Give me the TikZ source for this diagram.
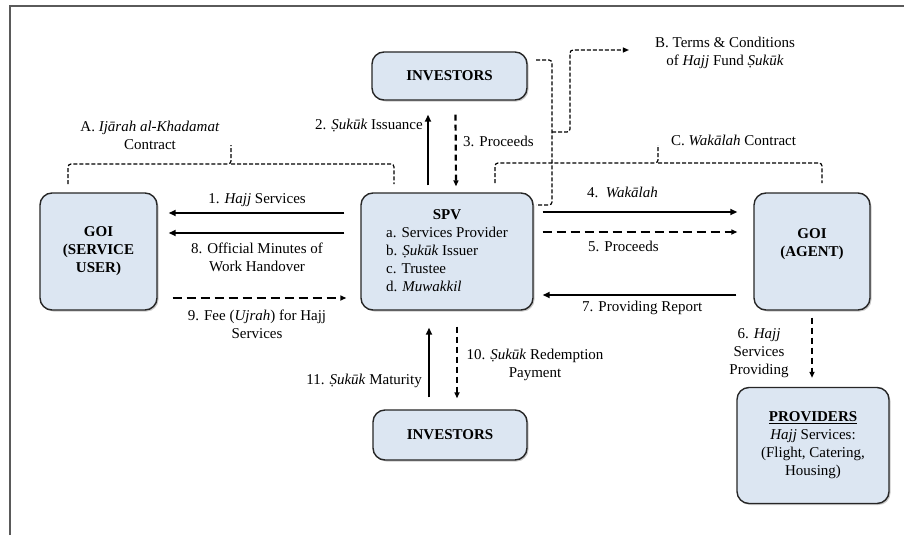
\documentclass[tikz,border=0pt]{standalone}
\usepackage{fontspec}
\setmainfont{Liberation Serif}
\usetikzlibrary{arrows.meta,shadows}
\definecolor{boxblue}{RGB}{220,230,242}
\definecolor{framegray}{RGB}{90,90,90}
\begin{document}
\begin{tikzpicture}[x=1pt,y=-1pt,
  font=\fontsize{15}{18}\selectfont,
  box/.style={draw=black!85, line width=1.4pt, fill=boxblue, rounded corners=12pt,
    inner sep=0pt, align=center, font=\fontsize{15}{18}\selectfont\bfseries,
    drop shadow={shadow xshift=1.5pt, shadow yshift=-1.5pt, opacity=0.35, fill=black!60}},
  lbl/.style={inner sep=0pt, text height=10pt, text depth=3.5pt},
  mlbl/.style={inner sep=0pt, align=center},
  solidarr/.style={line width=1.8pt, -{Triangle[length=7pt,width=6pt]}},
  dasharr/.style={line width=1.8pt, dash pattern=on 9pt off 5pt, -{Triangle[length=6pt,width=5pt]}},
  vdasharr/.style={line width=2.2pt, dash pattern=on 6pt off 4pt, -{Triangle[length=6pt,width=5pt]}},
  brk/.style={line width=1.2pt, dash pattern=on 4pt off 2pt, rounded corners=3pt},
  brkarr/.style={brk, -{Triangle[length=6pt,width=5pt]}}]
\useasboundingbox (0,0) rectangle (904,535);

% outer frame (top and left edges)
\draw[framegray, line width=2pt] (10,535) -- (10,6) -- (904,6);

% parties
\node[box, minimum width=155pt, minimum height=48pt] (inv1) at (449.5,76) {INVESTORS};
\node[box, minimum width=117pt, minimum height=117pt] (user) at (98.5,251.5) {GOI\\(SERVICE\\USER)};
\node[box, minimum width=172pt, minimum height=117pt, font=\fontsize{15}{18}\selectfont] (spv) at (447,251.5)
  {\begin{tabular}{@{}l@{}}\multicolumn{1}{@{}c@{}}{\textbf{SPV}}\\
   a. Services Provider\\ b. \textit{Ṣukūk} Issuer\\ c. Trustee\\ d. \textit{Muwakkil}\end{tabular}};
\node[box, minimum width=116pt, minimum height=117pt, text depth=18pt] (agent) at (812,251.5) {GOI\\(AGENT)};
\node[box, minimum width=154pt, minimum height=50pt] (inv2) at (450,435) {INVESTORS};
\node[box, minimum width=152pt, minimum height=116pt, font=\fontsize{15}{18}\selectfont] (prov) at (813,445.5)
  {\textbf{\underline{PROVIDERS}}\\\textit{Hajj} Services:\\(Flight, Catering,\\Housing)};

% SPV <-> investors (issuance)
\draw[solidarr] ([shift={(-19,-7)}]spv.north) -- ([shift={(-21.5,14)}]inv1.south);
\draw[vdasharr] ([shift={(6,14)}]inv1.south) -- ([shift={(9,-6)}]spv.north);
\node[lbl, anchor=east] (l2) at (423,126) {2. \textit{Ṣukūk} Issuance};
\node[lbl, anchor=west] (l3) at (463,143) {3. Proceeds};

% SPV <-> GOI service user
\draw[solidarr] ([shift={(-16,-38.5)}]spv.west) -- ([shift={(11,-38.5)}]user.east);
\draw[solidarr] ([shift={(-16,-18.5)}]spv.west) -- ([shift={(11,-18.5)}]user.east);
\draw[dasharr] ([shift={(15,46.5)}]user.east) -- ([shift={(-14,46.5)}]spv.west);
\node[lbl] (l1) at (257,200) {1. \textit{Hajj} Services};
\node[mlbl] (l8) at (257,257) {8. Official Minutes of\\Work Handover};
\node[mlbl] (l9) at (257,324.5) {9. Fee (\textit{Ujrah}) for Hajj\\Services};

% SPV <-> GOI agent
\draw[solidarr] ([shift={(9,-39.5)}]spv.east) -- ([shift={(-16,-39.5)}]agent.west);
\draw[dasharr] ([shift={(9,-19.5)}]spv.east) -- ([shift={(-16,-19.5)}]agent.west);
\draw[solidarr] ([shift={(-17,43.5)}]agent.west) -- ([shift={(9,43.5)}]spv.east);
\node[lbl, anchor=west] (l4) at (587,194) {4.\, \textit{Wakālah}};
\node[lbl, anchor=west] (l5) at (588,248) {5. Proceeds};
\node[lbl, anchor=west] (l7) at (582,308) {7. Providing Report};

% agent -> providers
\draw[vdasharr] ([shift={(0,7)}]agent.south) -- ([shift={(-1,-9)}]prov.north);
\node[mlbl] (l6) at (759,353) {6. \textit{Hajj}\\Services\\Providing};

% SPV <-> investors (redemption)
\draw[solidarr] ([shift={(-21,-12)}]inv2.north) -- ([shift={(-18,17)}]spv.south);
\draw[vdasharr] ([shift={(10,16)}]spv.south) -- ([shift={(7,-11)}]inv2.north);
\node[lbl, anchor=east] (l11) at (422,381) {11. \textit{Ṣukūk} Maturity};
\node[mlbl] (l10) at (535,365) {10. \textit{Ṣukūk} Redemption\\Payment};

% contract brackets
\draw[brk] (68,184) |- (231,164) -- (231,145);
\draw[brk] (231,164) -| (394,184);
\node[mlbl] (lA) at (150,135) {A. \textit{Ijārah al-Khadamat}\\Contract};
\draw[brk] (495,183) |- (658,163) -- (658,145);
\draw[brk] (658,163) -| (822,183);
\node[lbl, anchor=west] (lC) at (671,142) {C. \textit{Wakālah} Contract};

% terms and conditions bracket
\draw[brk] (536,60) -| (552,205) -- (536,205);
\node[mlbl] (lB) at (725,52.5) {B. Terms \& Conditions\\of \textit{Hajj} Fund \textit{Ṣukūk}};
\coordinate (bend) at (552,132);
\draw[brkarr] (bend) -| (570,50) -- ([xshift=-26pt]lB.west |- 0,50);
\end{tikzpicture}
\end{document}
